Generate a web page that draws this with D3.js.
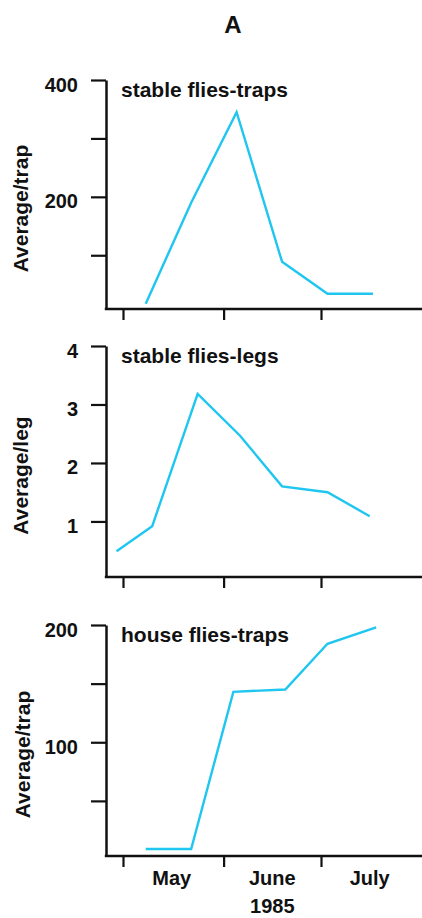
<!DOCTYPE html>
<html>
<head>
<meta charset="utf-8">
<script src="https://cdn.jsdelivr.net/npm/d3@7"></script>
<style>
  body { margin: 0; background: #fff; }
  text { font-family: "Liberation Sans", Arial, sans-serif; font-weight: bold; fill: #111; }
</style>
</head>
<body>
<svg id="chart" width="422" height="918"></svg>
<script>
// sampling dates and values
const stableTrapDates = ['1985-05-08', '1985-05-22', '1985-06-05', '1985-06-19', '1985-07-03', '1985-07-17']
const stableTrapValues = [17, 190, 345, 89, 34, 34]

const stableLegDates = ['1985-04-29', '1985-05-10', '1985-05-24', '1985-06-06', '1985-06-19', '1985-07-03', '1985-07-16']
const stableLegValues = [0.49, 0.92, 3.18, 2.47, 1.6, 1.5, 1.09]

const houseTrapDates = ['1985-05-08', '1985-05-22', '1985-06-04', '1985-06-20', '1985-07-03', '1985-07-18']
const houseTrapValues = [9, 9, 143, 145, 184, 198]

const monthTicks = ['1985-05-01', '1985-06-01', '1985-07-01']
const monthLabels = ['May', 'June', 'July']
const monthLabelDates = ['1985-05-16', '1985-06-16', '1985-07-16']
const yearLabel = '1985'

const panels = [
    { label: 'stable flies-traps', yTitle: 'Average/trap', dates: stableTrapDates, values: stableTrapValues,
      domain: [8, 400], ticks: [100, 200, 300, 400], shown: [200, 400], top: 80, bottom: 309, titleX: 28 },
    { label: 'stable flies-legs', yTitle: 'Average/leg', dates: stableLegDates, values: stableLegValues,
      domain: [0.05, 4], ticks: [1, 2, 3, 4], shown: [1, 2, 3, 4], top: 346, bottom: 577, titleX: 28 },
    { label: 'house flies-traps', yTitle: 'Average/trap', dates: houseTrapDates, values: houseTrapValues,
      domain: [3, 200], ticks: [50, 100, 150, 200], shown: [100, 200], top: 625, bottom: 856, titleX: 30 }
]

const svg = d3.select('#chart')
const width = 422
const axisX = 106
const lineColor = '#1ec6f0'
const parse = d3.utcParse('%Y-%m-%d')

const x = d3.scaleUtc()
    .domain([parse('1985-05-01'), parse('1985-07-01')])
    .range([123, 321])

svg.append('text')
    .attr('x', 233)
    .attr('y', 33)
    .attr('text-anchor', 'middle')
    .style('font-size', '24px')
    .text('A')

panels.forEach((p, pi) => {
    const g = svg.append('g')

    const y = d3.scaleLinear()
        .domain(p.domain)
        .range([p.bottom, p.top])

    // y axis
    const yAxis = g.append('g')
        .attr('transform', `translate(${axisX},0)`)
        .call(d3.axisLeft(y)
            .tickValues(p.ticks)
            .tickSize(15)
            .tickSizeOuter(0)
            .tickPadding(13)
            .tickFormat(d => p.shown.includes(d) ? d3.format('d')(d) : ''))
    yAxis.select('.domain').attr('stroke', '#111').attr('stroke-width', 2.5)
    yAxis.selectAll('.tick line').attr('stroke', '#111').attr('stroke-width', 2.2)
    yAxis.selectAll('.tick text')
        .attr('dy', '0.55em')
        .style('font-size', '20px')
        .style('font-family', '"Liberation Sans", Arial, sans-serif')
        .style('font-weight', 'bold')
        .attr('fill', '#111')

    // x axis
    g.append('line')
        .attr('x1', axisX - 1.2).attr('x2', width)
        .attr('y1', p.bottom).attr('y2', p.bottom)
        .attr('stroke', '#111').attr('stroke-width', 2.5)

    const xAxis = g.append('g')
        .attr('transform', `translate(0,${p.bottom})`)
        .call(d3.axisBottom(x)
            .tickValues(monthTicks.map(parse))
            .tickSize(11)
            .tickFormat(''))
    xAxis.select('.domain').remove()
    xAxis.selectAll('.tick line').attr('stroke', '#111').attr('stroke-width', 2.2)

    // series line
    const pts = p.dates.map((d, i) => ({ date: parse(d), value: p.values[i] }))
    g.append('path')
        .datum(pts)
        .attr('fill', 'none')
        .attr('stroke', lineColor)
        .attr('stroke-width', 2.4)
        .attr('stroke-linejoin', 'miter')
        .attr('d', d3.line().x(d => x(d.date)).y(d => y(d.value)))

    // panel label
    g.append('text')
        .attr('x', 121)
        .attr('y', y(p.domain[1]) + 17)
        .style('font-size', '21px')
        .text(p.label)

    // y title
    g.append('text')
        .attr('transform', `translate(${p.titleX},${(p.top + p.bottom) / 2 + 14}) rotate(-90)`)
        .attr('text-anchor', 'middle')
        .style('font-size', '21px')
        .text(p.yTitle)
})

// month labels under the last panel
svg.selectAll('text.month')
    .data(monthLabels)
    .join('text')
    .classed('month', true)
    .attr('x', (d, i) => x(parse(monthLabelDates[i])))
    .attr('y', 885)
    .attr('text-anchor', 'middle')
    .style('font-size', '20px')
    .text(d => d)

svg.append('text')
    .attr('x', x(parse('1985-06-16')))
    .attr('y', 913)
    .attr('text-anchor', 'middle')
    .style('font-size', '20px')
    .text(yearLabel)
</script>
</body>
</html>
